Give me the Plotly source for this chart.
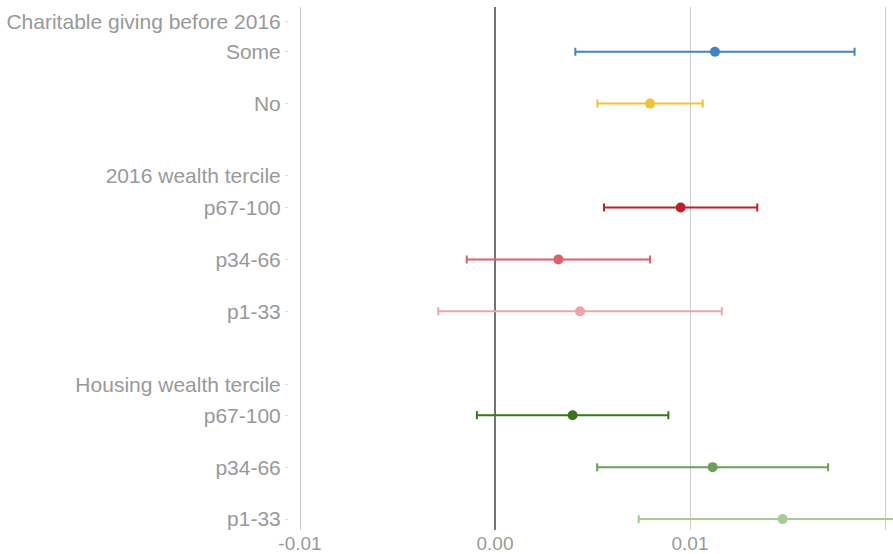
import plotly.graph_objects as go

# Row labels and their vertical slots (group headers sit between rows)
labels = ["Some", "No", "p67-100", "p34-66", "p1-33", "p67-100", "p34-66", "p1-33"]
positions = [1, 2, 4, 5, 6, 8, 9, 10]
header_labels = ["Charitable giving before 2016", "2016 wealth tercile", "Housing wealth tercile"]
header_positions = [0.42, 3.39, 7.41]

# Point estimates and 95% CI half-widths
estimates = [0.01128, 0.00795, 0.00952, 0.00325, 0.00436, 0.00398, 0.01116, 0.01475]
half_widths = [0.00716, 0.00270, 0.00393, 0.00470, 0.00727, 0.00491, 0.00592, 0.00738]

colors = ["#3d85c6", "#f1c232", "#c0202a", "#d9626a", "#eaa6a9",
          "#38761d", "#6e9e55", "#a8cc98"]

x_ticks = [-0.01, 0.0, 0.01, 0.02]
x_ticktext = ["-0.01", "0.00", "0.01", "0.02"]

W, H = 893, 554
x_min, x_max = -0.0102, 0.02041
px_per_unit = 19500
plot_left = W - (x_max - x_min) * px_per_unit

fig = go.Figure()
for lab, pos, est, hw, col in zip(labels, positions, estimates, half_widths, colors):
    fig.add_trace(go.Scatter(
        x=[est], y=[pos], mode="markers",
        marker=dict(color=col, size=10),
        error_x=dict(type="data", array=[hw], color=col, thickness=2, width=4),
        name=lab, showlegend=False,
    ))

font = dict(family="Liberation Sans, Arial, sans-serif", size=21, color="#999999")
xfont = dict(family="Liberation Sans, Arial, sans-serif", size=19, color="#999999")

fig.update_layout(
    width=W, height=H,
    margin=dict(l=0, r=0, t=7, b=24),
    paper_bgcolor="white", plot_bgcolor="white",
    font=font,
    xaxis=dict(
        domain=[plot_left / W, 1],
        range=[x_min, x_max],
        tickvals=x_ticks, ticktext=x_ticktext,
        showgrid=True, gridcolor="#cccccc", gridwidth=1,
        zeroline=True, zerolinecolor="#737373", zerolinewidth=2,
        showline=False, ticks="", tickfont=xfont,
        automargin=False,
    ),
    yaxis=dict(
        anchor="free", position=288 / W,
        range=[10.21, 0.14],
        tickvals=header_positions + positions,
        ticktext=header_labels + labels,
        showgrid=False, zeroline=False, showline=False,
        ticks="outside", ticklen=3, tickcolor="#dddddd", tickwidth=1,
        tickfont=font, automargin=False,
    ),
)

fig.write_html("out.html")
